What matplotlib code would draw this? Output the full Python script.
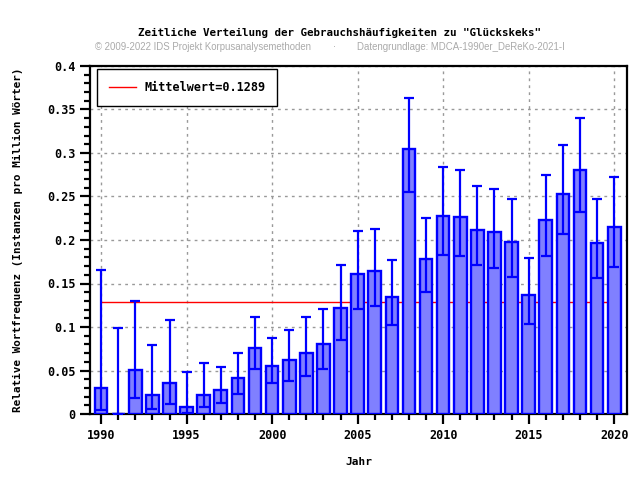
import numpy as np
import matplotlib.pyplot as plt
from matplotlib.ticker import MultipleLocator, FuncFormatter

years = list(range(1990, 2021))
freq = [0.0295, 0.0, 0.0502, 0.0222, 0.036, 0.0084, 0.0222, 0.0272, 0.041, 0.0762,
        0.0555, 0.0617, 0.0697, 0.080, 0.1215, 0.1605, 0.164, 0.135, 0.305, 0.1786,
        0.228, 0.226, 0.2119, 0.2096, 0.198, 0.137, 0.2234, 0.2533, 0.2809, 0.197,
        0.2153]
err_low = [0.005, 0.0, 0.0187, 0.006, 0.0118, 0.0015, 0.0084, 0.013, 0.0233, 0.052,
           0.036, 0.038, 0.044, 0.052, 0.085, 0.121, 0.1245, 0.1026, 0.255, 0.1406,
           0.183, 0.182, 0.1717, 0.168, 0.158, 0.104, 0.182, 0.2073, 0.2326, 0.1567,
           0.1693]
err_high = [0.1655, 0.0992, 0.130, 0.0797, 0.1084, 0.0487, 0.059, 0.0544, 0.0705, 0.1118,
            0.0877, 0.097, 0.111, 0.121, 0.1716, 0.210, 0.213, 0.177, 0.3636, 0.2257,
            0.2843, 0.281, 0.2625, 0.259, 0.2475, 0.179, 0.2747, 0.3096, 0.3406, 0.2475,
            0.2728]
mean_val = 0.1289

mono = 'DejaVu Sans Mono'

fig = plt.figure(figsize=(6.4, 4.8), dpi=100)
ax = fig.add_axes([0.1406, 0.1375, 0.8391, 0.725])

f = np.array(freq)
yerr = [f - np.array(err_low), np.array(err_high) - f]

ax.plot([years[0], years[-1]], [mean_val, mean_val], color='red', lw=1, zorder=2,
        label='Mittelwert=%.4f' % mean_val)
ax.bar(years, freq, width=0.74, color='#8080ff', edgecolor='#0000ff', linewidth=1.7, zorder=3)
ax.errorbar(years, freq, yerr=yerr, fmt='none', ecolor='#0000ff', elinewidth=1.6,
            capsize=3.5, capthick=1.6, zorder=4)

ax.set_xlim(1989.35, 2020.75)
ax.set_ylim(0, 0.4)
ax.xaxis.set_major_locator(MultipleLocator(5))
ax.xaxis.set_minor_locator(MultipleLocator(1))
ax.yaxis.set_major_locator(MultipleLocator(0.05))
ax.yaxis.set_minor_locator(MultipleLocator(0.01))
ax.yaxis.set_major_formatter(FuncFormatter(lambda v, p: ('%.2f' % v).rstrip('0').rstrip('.')))
ax.grid(True, which='major', color='#999999', linestyle=(0, (2, 3)), lw=1, zorder=0)
ax.set_axisbelow(True)

for s in ax.spines.values():
    s.set_linewidth(1.6)
ax.tick_params(which='major', length=7, width=1.6, direction='out')
ax.tick_params(which='minor', length=4, width=1.6, direction='out')
for lab in ax.get_xticklabels() + ax.get_yticklabels():
    lab.set_fontfamily(mono)
    lab.set_fontweight('bold')
    lab.set_fontsize(8.5)

ax.set_xlabel('Jahr', fontfamily=mono, fontweight='bold', fontsize=8, labelpad=11)
ax.set_ylabel('Relative Wortfrequenz (Instanzen pro Million Wörter)', fontfamily=mono,
              fontweight='bold', fontsize=7.9, labelpad=17)

leg = ax.legend(loc='upper left', prop={'family': mono, 'weight': 'bold', 'size': 8.5},
                fancybox=False, framealpha=1, edgecolor='black', borderpad=1.0,
                handlelength=2.3, handletextpad=0.7, borderaxespad=0,
                bbox_to_anchor=(0.013, 0.991))
leg.get_frame().set_linewidth(1)

fig.text(0.531, 0.932, 'Zeitliche Verteilung der Gebrauchshäufigkeiten zu "Glückskeks"',
         ha='center', va='center', fontfamily=mono, fontweight='bold', fontsize=7.8)
fig.text(0.148, 0.902, '© 2009-2022 IDS Projekt Korpusanalysemethoden', ha='left', va='center',
         fontfamily='Liberation Sans', fontsize=6.9, color='#aaaaaa')
fig.text(0.523, 0.902, '·', ha='center', va='center', fontsize=6.9, color='#aaaaaa')
fig.text(0.558, 0.902, 'Datengrundlage: MDCA-1990er_DeReKo-2021-I', ha='left', va='center',
         fontfamily='Liberation Sans', fontsize=6.9, color='#aaaaaa')

fig.savefig('out.png', dpi=100)
